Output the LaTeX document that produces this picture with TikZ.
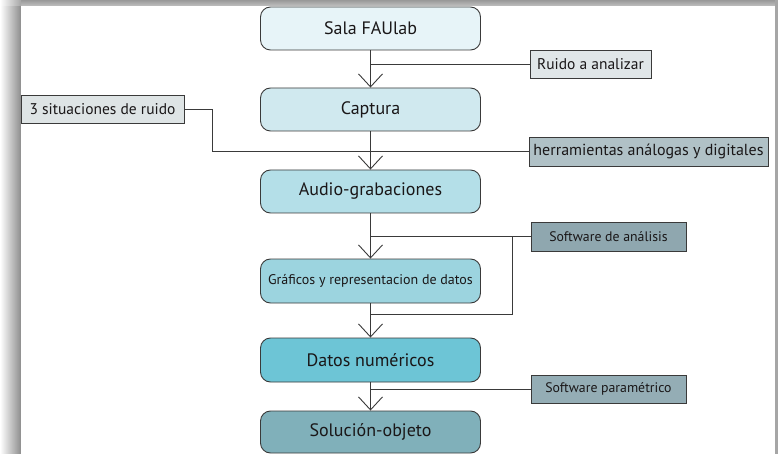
\documentclass[tikz,border=0pt]{standalone}
\usepackage{fontspec}
\setmainfont{PT Sans}
\usetikzlibrary{arrows.meta,calc}
\definecolor{ink}{HTML}{3A3A3A}
\definecolor{txt}{HTML}{1A1718}
\definecolor{cSala}{RGB}{231,244,248}
\definecolor{cCaptura}{RGB}{208,233,239}
\definecolor{cAudio}{RGB}{180,223,232}
\definecolor{cGraf}{RGB}{156,212,223}
\definecolor{cDatos}{RGB}{109,197,214}
\definecolor{cSol}{RGB}{128,176,186}
\definecolor{cRuido}{RGB}{224,230,232}
\definecolor{cSitu}{RGB}{222,228,229}
\definecolor{cHerr}{RGB}{176,193,198}
\definecolor{cSa}{RGB}{143,167,175}
\definecolor{cSp}{RGB}{148,173,181}
\tikzset{
  mainbox/.style={draw=ink, line width=0.9pt, rounded corners=10pt,
    minimum width=220pt, text=txt, font=\fontsize{18}{19}\selectfont, inner sep=0pt},
  tagbox/.style={draw=ink, line width=0.9pt, text=txt,
    font=\fontsize{15.5}{16}\selectfont, inner sep=0pt},
  link/.style={draw=ink, line width=0.9pt},
  flow/.style={link, -{Straight Barb[length=13pt,width=24pt,line width=0.9pt]}}
}
\begin{document}
\begin{tikzpicture}[x=1pt,y=-1pt]
  \useasboundingbox (0,0) rectangle (778,454);
  % page with its drop shadow
  \fill[white] (0,0) rectangle (778,454);
  \shade[left color=white, right color=black!45] (0,6) rectangle (21,454);
  \shade[top color=black!40, bottom color=black!25] (21,0) rectangle (775,6);
  \shade[left color=white, right color=black!35] (0,0) rectangle (21,6);
  \fill[black!35] (775,0) rectangle (778,454);
  \fill[white] (21,6) rectangle (775,454);

  % main sequence
  \node[mainbox, fill=cSala, minimum height=43pt] (sala) at (370.5,28.5) {Sala FAUlab};
  \node[mainbox, fill=cCaptura, minimum height=43pt] (captura) at (370.5,109.5) {Captura};
  \node[mainbox, fill=cAudio, minimum height=43pt] (audio) at (370.5,191.5) {Audio-grabaciones};
  \node[mainbox, fill=cGraf, minimum height=44pt, font=\fontsize{14}{15}\selectfont] (graf) at (370.5,281) {Gráficos y representacion de datos};
  \node[mainbox, fill=cDatos, minimum height=44pt] (datos) at (370.5,360) {Datos numéricos};
  \node[mainbox, fill=cSol, minimum height=42pt] (sol) at (370.5,432) {Solución-objeto};

  % side inputs
  \node[tagbox, fill=cRuido, minimum width=121pt, minimum height=28pt] (ruido) at (590.5,64) {Ruido a analizar};
  \node[tagbox, fill=cSitu, minimum width=163pt, minimum height=28pt] (situ) at (102.5,109) {3 situaciones de ruido};
  \node[tagbox, fill=cHerr, minimum width=239pt, minimum height=29pt, font=\fontsize{16}{17}\selectfont] (herr) at (648.5,151.5) {herramientas análogas y digitales};
  \node[tagbox, fill=cSa, minimum width=155pt, minimum height=29pt, font=\fontsize{13.8}{15}\selectfont] (sa) at (608.5,236.5) {Software de análisis};
  \node[tagbox, fill=cSp, minimum width=155pt, minimum height=28pt, font=\fontsize{13.8}{15}\selectfont] (sp) at (608.5,389) {Software paramétrico};

  % flow arrows
  \draw[flow] (sala.south) -- (captura.north);
  \draw[flow] (captura.south) -- (audio.north);
  \draw[flow] (audio.south) -- (graf.north);
  \draw[flow] (graf.south) -- (datos.north);
  \draw[flow] (datos.south) -- (sol.north);

  % branches
  \draw[link] (ruido.west) -- (sala.south |- ruido.west);
  \draw[link] (situ.east) -- ++(28,0) |- (herr.west);
  \draw[link] (sa.west) -- (audio.south |- sa.west);
  \coordinate (merge) at ($(graf.south)+(0,11)$);
  \draw[link] ($(sa.west)+(-18,0)$) |- (merge);
  \draw[link] (sp.west) -- (datos.south |- sp.west);
\end{tikzpicture}
\end{document}
